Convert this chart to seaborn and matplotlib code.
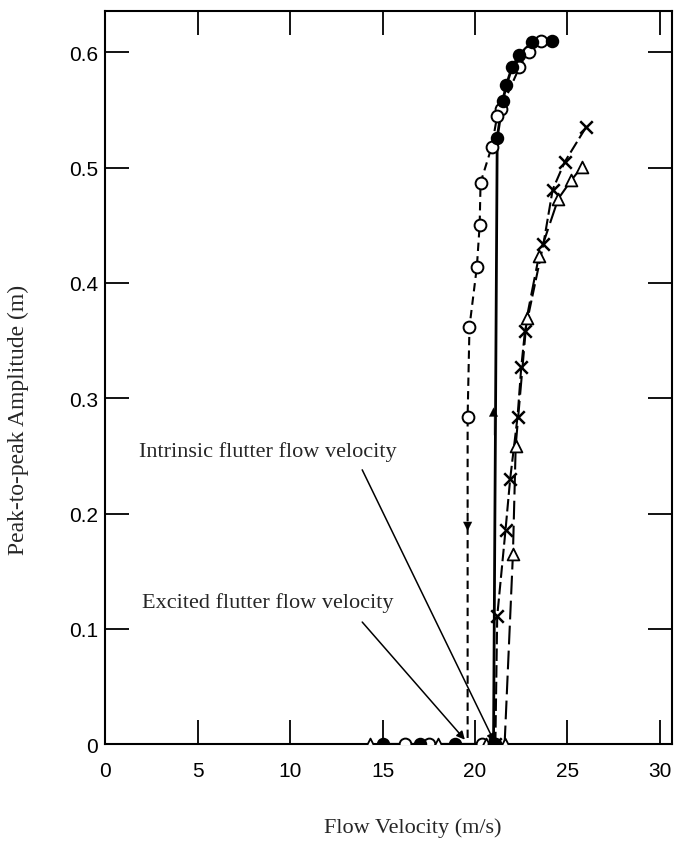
"""
Peak-to-peak flutter amplitude against flow velocity, with the
hysteresis loop between the excited and intrinsic flutter onsets.
"""

import pandas as pd
import seaborn as sns
import matplotlib
matplotlib.use('Agg')
import matplotlib.pyplot as plt
from matplotlib import ticker as mticker


########  data  ########

# open circles: velocity decreasing (top of the loop down to collapse)
OPEN_V = [23.55, 22.9, 22.4, 21.4, 21.2, 20.9, 20.3, 20.25, 20.1, 19.7, 19.6, 19.6, 17.5, 16.2]
OPEN_A = [0.610, 0.600, 0.587, 0.551, 0.545, 0.518, 0.487, 0.450, 0.414, 0.362, 0.284, 0.0, 0.0, 0.0]
OPEN_MARK = [True]*11 + [False, True, True]
OPEN_EXTRA_V = [20.4, 21.1]   # open circles lying on the axis

# filled circles: velocity increasing, jump at the excited onset
FILL_V = [15.0, 17.0, 18.9, 21.0, 21.0, 21.2, 21.5, 21.7, 22.0, 22.4, 23.1, 24.15]
FILL_A = [0.0, 0.0, 0.0, 0.0, 0.0, 0.526, 0.558, 0.572, 0.587, 0.598, 0.609, 0.610]

# crosses
CROSS_V = [21.1, 21.2, 21.65, 21.9, 22.3, 22.5, 22.7, 23.7, 24.2, 24.85, 26.0]
CROSS_A = [0.0, 0.111, 0.186, 0.230, 0.284, 0.327, 0.358, 0.434, 0.481, 0.505, 0.535]

# triangles
TRI_V = [21.6, 22.05, 22.2, 22.8, 23.45, 24.5, 25.2, 25.8]
TRI_A = [0.0, 0.165, 0.259, 0.370, 0.423, 0.473, 0.489, 0.501]
TRI_EXTRA_V = [14.3, 18.0, 20.6]

# direction arrows on the loop (velocity, amplitude, direction)
LOOP_ARROWS = [(19.6, 0.197, -1), (21.0, 0.280, 1)]

# labelled onsets: text, arrow tip, text centre, arrow start
ANNOTATIONS = [
    ('Intrinsic flutter flow velocity', (21.05, 0.002), (8.8, 0.254), (13.9, 0.238)),
    ('Excited flutter flow velocity', (19.45, 0.004), (8.8, 0.123), (13.9, 0.106)),
]

XTICKS = [0, 5, 10, 15, 20, 25, 30]
YTICKS = [0, 0.1, 0.2, 0.3, 0.4, 0.5, 0.6]
YTICKLABELS = ['0', '0.1', '0.2', '0.3', '0.4', '0.5', '0.6']

EXPORT_FNAME = 'out.png'

########################


sns.set_style('ticks')
plt.rcParams['font.family'] = ['Liberation Sans', 'DejaVu Sans']
SERIF = ['Liberation Serif', 'DejaVu Serif']

fig = plt.figure(figsize=(6.74, 8.45), dpi=100)
ax = fig.add_axes([0.156, 0.118, 0.841, 0.868])

LW = 1.5
MS = 8.5

open_df = pd.DataFrame(dict(v=OPEN_V, a=OPEN_A))
sns.lineplot(data=open_df, x='v', y='a', sort=False, estimator=None, ax=ax,
             color='k', linewidth=LW, linestyle=(0, (4, 2.5)), zorder=3)
sns.scatterplot(data=open_df[OPEN_MARK], x='v', y='a', ax=ax, marker='o',
                s=MS**2, facecolor='white', edgecolor='k', linewidth=1.4, zorder=5)
sns.scatterplot(x=OPEN_EXTRA_V, y=[0.0]*len(OPEN_EXTRA_V), ax=ax, marker='o',
                s=MS**2, facecolor='white', edgecolor='k', linewidth=1.4, zorder=5)

fill_df = pd.DataFrame(dict(v=FILL_V, a=FILL_A))
sns.lineplot(data=fill_df, x='v', y='a', sort=False, estimator=None, ax=ax,
             color='k', linewidth=LW + 0.5, zorder=3)
sns.scatterplot(data=fill_df, x='v', y='a', ax=ax, marker='o', s=MS**2,
                color='k', edgecolor='k', linewidth=1.2, zorder=6)

cross_df = pd.DataFrame(dict(v=CROSS_V, a=CROSS_A))
sns.lineplot(data=cross_df, x='v', y='a', sort=False, estimator=None, ax=ax,
             color='k', linewidth=LW, linestyle=(0, (6, 2)), zorder=3)
sns.scatterplot(data=cross_df, x='v', y='a', ax=ax, marker='x', s=9**2,
                color='k', linewidth=1.8, zorder=5)

tri_df = pd.DataFrame(dict(v=TRI_V, a=TRI_A))
sns.lineplot(data=tri_df, x='v', y='a', sort=False, estimator=None, ax=ax,
             color='k', linewidth=LW, linestyle=(0, (9, 3)), zorder=3)
sns.scatterplot(data=tri_df, x='v', y='a', ax=ax, marker='^', s=MS**2,
                facecolor='white', edgecolor='k', linewidth=1.3, zorder=5)
sns.scatterplot(x=TRI_EXTRA_V, y=[0.0]*len(TRI_EXTRA_V), ax=ax, marker='^',
                s=MS**2, facecolor='white', edgecolor='k', linewidth=1.3, zorder=5)

# arrowheads along the loop
for v, a, d in LOOP_ARROWS:
    ax.annotate('', xy=(v, a + d*0.012), xytext=(v, a - d*0.012),
                arrowprops=dict(arrowstyle='-|>', color='k', lw=0.1,
                                mutation_scale=16, shrinkA=0, shrinkB=0),
                zorder=7)

# onset labels
for label, tip, txt, start in ANNOTATIONS:
    ax.text(txt[0], txt[1], label, family=SERIF, fontsize=16,
            ha='center', va='center')
    ax.annotate('', xy=tip, xytext=start,
                arrowprops=dict(arrowstyle='-|>', color='k', lw=1.1,
                                mutation_scale=12, shrinkA=0, shrinkB=0))

# aesthetics
ax.set_xlim(0, 30.65)
ax.set_ylim(0, 0.636)
ax.set_xticks(XTICKS)
ax.set_yticks(YTICKS)
ax.set_yticklabels(YTICKLABELS)
ax.xaxis.set_major_formatter(mticker.FormatStrFormatter('%d'))
ax.tick_params(direction='in', length=17, width=1.3, top=True, right=True,
               labelsize=15, colors='k')
ax.tick_params(axis='x', pad=12)
ax.tick_params(axis='y', pad=5)
for s in ax.spines.values():
    s.set_linewidth(1.5)
    s.set_color('k')
ax.grid(False)

ax.set_xlabel('Flow Velocity (m/s)', family=SERIF, fontsize=16)
ax.set_ylabel('Peak-to-peak Amplitude (m)', family=SERIF, fontsize=17)
ax.xaxis.set_label_coords(0.543, -0.100)
ax.yaxis.set_label_coords(-0.135, 0.443)

plt.savefig(EXPORT_FNAME, dpi=100)
plt.close()
